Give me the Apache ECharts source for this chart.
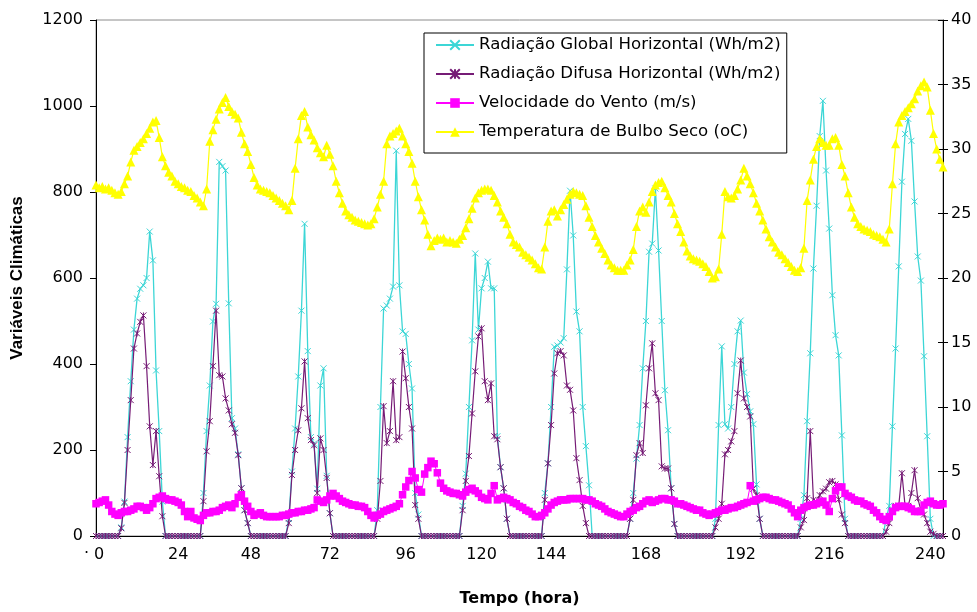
<!DOCTYPE html>
<html><head><meta charset="utf-8">
<script src="https://cdn.jsdelivr.net/npm/echarts@6/dist/echarts.min.js"></script>
<style>html,body{margin:0;padding:0;background:#fff}#c{width:977px;height:612px}</style>
</head><body><div id="c"></div>
<script>
// x-axis tick labels (hours) and the point index where each label sits
const hourTickLabels = ['0','24','48','72','96','120','144','168','192','216','240'];
const hourTickIndex  = [1, 26, 49, 74, 98, 122, 144, 174, 204, 232, 264];

// Radiação Global Horizontal (Wh/m2)
const radGlobal = [
 0,0,0,0,0,0,0,0,
 20,80,230,360,480,552,575,583,600,708,641,385,244,80,0,
 0,0,0,0,0,0,0,0,0,0,0,
 100,244,350,499,540,870,860,850,541,274,250,190,111,60,30,0,
 0,0,0,0,0,0,0,0,0,0,0,
 40,150,250,371,524,726,430,230,215,110,350,390,140,53,0,
 0,0,0,0,0,0,0,0,0,0,0,0,0,
 60,300,529,536,552,580,896,583,476,470,400,343,100,50,0,
 0,0,0,0,0,0,0,0,0,0,0,0,
 70,145,300,455,657,480,576,600,638,576,576,232,160,111,40,0,
 0,0,0,0,0,0,0,0,0,0,
 100,169,300,440,443,450,460,620,803,699,522,476,300,209,118,0,
 0,0,0,0,0,0,0,0,0,0,0,
 40,100,180,258,390,500,661,680,808,664,500,339,246,111,28,0,
 0,0,0,0,0,0,0,0,0,0,0,
 40,258,441,260,250,300,400,476,501,380,330,290,260,120,40,0,
 0,0,0,0,0,0,0,0,0,0,0,
 40,95,267,425,622,768,930,1012,850,715,560,467,420,234,40,0,
 0,0,0,0,0,0,0,0,0,0,0,
 40,70,255,436,627,824,935,970,919,778,650,594,418,232,40,0,0,0,0
];

// Radiação Difusa Horizontal (Wh/m2)
const radDifusa = [
 0,0,0,0,0,0,0,0,
 18,77,200,316,436,471,498,513,395,255,165,244,139,46,0,
 0,0,0,0,0,0,0,0,0,0,0,
 81,197,267,395,524,374,371,320,292,260,240,188,111,60,30,0,
 0,0,0,0,0,0,0,0,0,0,0,
 30,142,200,246,297,406,274,223,211,100,227,200,135,53,0,
 0,0,0,0,0,0,0,0,0,0,0,0,0,
 40,128,302,216,244,360,223,230,429,367,300,250,72,40,0,
 0,0,0,0,0,0,0,0,0,0,0,0,
 60,128,186,285,383,464,483,360,316,355,232,225,160,111,40,0,
 0,0,0,0,0,0,0,0,0,0,
 84,169,258,378,425,430,420,350,340,292,181,130,70,30,0,0,
 0,0,0,0,0,0,0,0,0,0,0,
 40,84,188,216,193,304,390,448,332,316,162,157,157,111,28,0,
 0,0,0,0,0,0,0,0,0,0,0,
 20,40,75,190,200,220,244,332,408,320,300,278,110,95,40,0,
 0,0,0,0,0,0,0,0,0,0,0,
 20,37,88,244,84,80,95,104,110,125,128,120,85,50,30,0,
 0,0,0,0,0,0,0,0,0,0,0,
 10,30,60,70,70,146,70,70,100,153,88,60,50,30,10,5,0,0,0
];

// Velocidade do Vento (m/s) - right axis
const vento = [
 2.5,2.6,2.7,2.8,2.4,1.9,1.7,1.6,1.8,1.9,
 1.9,2.0,2.1,2.3,2.3,2.2,2.0,2.2,2.5,2.9,
 3.0,3.1,2.9,2.8,2.8,2.7,2.6,2.4,1.9,1.5,
 1.9,1.4,1.3,1.2,1.6,1.8,1.8,1.9,1.9,2.0,
 2.2,2.3,2.4,2.2,2.5,3.0,3.2,2.7,2.3,1.9,
 1.6,1.7,1.8,1.6,1.5,1.5,1.5,1.5,1.5,1.6,
 1.6,1.7,1.8,1.8,1.9,1.9,2.0,2.0,2.1,2.2,
 2.8,2.7,2.6,2.8,3.1,3.3,3.1,2.9,2.7,2.6,
 2.5,2.4,2.4,2.3,2.3,2.2,1.9,1.6,1.4,1.6,
 1.7,1.9,2.0,2.1,2.2,2.3,2.5,3.2,3.8,4.3,
 5.0,4.5,3.6,3.4,4.8,5.3,5.8,5.6,4.9,4.1,
 3.7,3.5,3.4,3.3,3.3,3.2,3.1,3.4,3.6,3.7,
 3.5,3.3,3.0,2.9,2.8,3.3,3.9,2.8,2.9,3.0,
 2.9,2.8,2.6,2.5,2.3,2.2,2.0,1.9,1.7,1.5,
 1.5,1.6,1.8,2.1,2.4,2.6,2.7,2.8,2.8,2.8,
 2.9,2.9,2.9,2.9,2.9,2.8,2.8,2.7,2.5,2.4,
 2.3,2.1,1.9,1.8,1.7,1.6,1.5,1.5,1.7,1.9,
 2.0,2.2,2.3,2.5,2.7,2.8,2.6,2.7,2.8,2.9,
 2.9,2.8,2.8,2.7,2.5,2.5,2.4,2.3,2.2,2.1,
 2.0,2.0,1.8,1.7,1.6,1.7,1.8,1.9,2.0,2.0,
 2.1,2.2,2.2,2.3,2.4,2.5,2.6,3.9,2.7,2.8,
 2.9,3.0,3.0,2.9,2.8,2.8,2.7,2.6,2.5,2.4,
 2.1,1.8,1.5,2.0,2.2,2.3,2.4,2.4,2.5,2.6,
 2.7,2.4,1.9,2.9,3.5,3.8,3.8,3.3,3.1,3.0,
 2.8,2.7,2.7,2.5,2.4,2.3,2.0,1.8,1.5,1.3,
 1.2,1.5,1.9,2.2,2.3,2.3,2.3,2.2,2.1,1.9,
 1.9,1.9,2.4,2.6,2.7,2.5,2.4,2.4,2.5
];

// Temperatura de Bulbo Seco (oC) - right axis
const temperatura = [
 27.2,27.0,27.1,26.9,27.0,26.8,26.6,26.5,26.7,27.3,
 27.9,29.0,29.9,30.2,30.5,30.8,31.2,31.6,32.1,32.2,
 30.9,29.4,28.7,28.2,27.9,27.5,27.3,27.1,27.0,26.8,
 26.7,26.4,26.2,25.9,25.6,26.9,30.6,31.5,32.3,33.1,
 33.6,34.0,33.3,32.9,32.7,32.4,31.3,30.4,29.8,28.8,
 27.8,27.2,26.9,26.8,26.7,26.6,26.4,26.2,26.0,25.8,
 25.6,25.3,26.0,28.5,30.8,32.6,32.9,31.7,31.1,30.7,
 30.1,29.7,29.4,30.3,29.6,28.7,27.5,26.6,25.8,25.2,
 24.9,24.7,24.5,24.4,24.3,24.2,24.1,24.2,24.6,25.5,
 26.5,27.5,30.4,31.0,31.2,31.4,31.6,31.0,30.4,29.8,
 28.9,27.5,26.3,25.3,24.5,23.4,22.5,22.9,23.1,23.0,
 23.1,22.8,22.9,22.8,22.7,23.0,23.3,23.9,24.6,25.4,
 26.2,26.6,26.8,26.9,26.9,26.8,26.4,25.9,25.2,24.7,
 24.2,23.4,22.8,22.6,22.4,22.0,21.8,21.6,21.4,21.1,
 20.8,20.7,22.4,24.4,25.2,25.3,24.8,25.3,25.7,26.1,
 26.5,26.7,26.6,26.5,26.4,25.6,24.7,24.0,23.3,22.8,
 22.3,21.9,21.4,21.0,20.8,20.6,20.6,20.6,21.0,21.4,
 22.2,24.0,25.2,25.5,25.1,25.9,26.7,27.2,27.4,27.5,
 27.0,26.4,25.9,25.0,24.2,23.6,22.8,22.1,21.7,21.5,
 21.4,21.3,21.1,20.9,20.5,20.0,20.1,20.7,23.4,26.7,
 26.3,26.2,26.4,26.9,27.6,28.5,27.9,27.3,26.6,25.8,
 25.2,24.5,23.8,23.2,22.8,22.4,22.0,21.8,21.5,21.2,
 20.9,20.6,20.5,20.8,22.3,26.0,27.6,29.2,30.2,30.8,
 30.5,30.3,30.3,30.8,30.9,30.3,28.8,27.9,26.6,25.5,
 24.7,24.2,24.0,23.8,23.7,23.6,23.4,23.3,23.2,23.0,
 22.8,23.8,27.3,30.4,32.1,32.6,32.9,33.2,33.5,33.9,
 34.5,34.9,35.2,34.8,33.0,31.2,30.0,29.2,28.6
];

const seriesNames = [
 'Radiação Global Horizontal (Wh/m2)',
 'Radiação Difusa Horizontal (Wh/m2)',
 'Velocidade do Vento (m/s)',
 'Temperatura de Bulbo Seco (oC)'
];

const pontos = radGlobal.map((_, i) => String(i));
const FONT = 'DejaVu Sans';
const C_GLOBAL = '#3CD6D6', C_DIF = '#761C76', C_VENTO = '#FF00FF', C_TEMP = '#FFFF00';

const chart = echarts.init(document.getElementById('c'), null, {renderer: 'canvas'});
chart.setOption({
  animation: false,
  backgroundColor: '#fff',
  grid: {left: 96, right: 34, top: 20, bottom: 74, show: true, borderColor: '#8c8c8c', borderWidth: 1},
  legend: {
    orient: 'vertical', left: 424, top: 33,
    padding: [3, 6, 12, 11], itemGap: 11, itemWidth: 38, itemHeight: 12,
    borderColor: '#000', borderWidth: 1, backgroundColor: '#fff',
    textStyle: {fontFamily: FONT, fontSize: 16.6, color: '#000', lineHeight: 18},
    data: seriesNames
  },
  graphic: [{type: 'text', left: 84, top: 546, style: {text: '·', font: '16px DejaVu Sans', fill: '#000'}}],
  xAxis: {
    type: 'category', data: pontos, boundaryGap: false,
    name: 'Tempo (hora)', nameLocation: 'middle', nameGap: 55,
    nameTextStyle: {fontFamily: FONT, fontSize: 16, fontWeight: 'bold', color: '#000'},
    axisLine: {lineStyle: {color: '#000', width: 1}},
    axisTick: {show: false},
    axisLabel: {
      interval: (idx) => hourTickIndex.includes(idx),
      formatter: (v, idx) => { const k = hourTickIndex.indexOf(idx); return k >= 0 ? hourTickLabels[k] : ''; },
      fontFamily: FONT, fontSize: 16, color: '#000', margin: 11
    },
    splitLine: {show: false}
  },
  yAxis: [
    {
      type: 'value', min: 0, max: 1200, interval: 200, position: 'left',
      name: 'Variáveis Climáticas', nameLocation: 'middle', nameGap: 70, nameRotate: 90,
      nameTextStyle: {fontFamily: 'Liberation Sans', fontSize: 17, fontWeight: 'bold', color: '#000'},
      axisLine: {show: true, lineStyle: {color: '#000', width: 1}},
      axisTick: {show: true, length: 6, lineStyle: {color: '#000'}},
      axisLabel: {fontFamily: FONT, fontSize: 16, color: '#000', margin: 13, formatter: (v) => String(v)},
      splitLine: {show: false}
    },
    {
      type: 'value', min: 0, max: 40, interval: 5, position: 'right',
      axisLine: {show: true, lineStyle: {color: '#000', width: 1}},
      axisTick: {show: true, length: 5, lineStyle: {color: '#000'}},
      axisLabel: {fontFamily: FONT, fontSize: 16, color: '#000', margin: 8, formatter: (v) => String(v)},
      splitLine: {show: false}
    },
    {
      type: 'value', min: 0, max: 40, interval: 5, position: 'right',
      axisLine: {show: false},
      axisTick: {show: true, inside: true, length: 5, lineStyle: {color: '#000'}},
      axisLabel: {show: false},
      splitLine: {show: false}
    }
  ],
  series: [
    {
      name: seriesNames[0], type: 'line', yAxisIndex: 0, data: radGlobal,
      showAllSymbol: true, symbol: 'path://M0,0L10,10M10,0L0,10', symbolSize: 6,
      itemStyle: {color: 'rgba(0,0,0,0)', borderColor: C_GLOBAL, borderWidth: 1},
      lineStyle: {color: C_GLOBAL, width: 1.3}, z: 2
    },
    {
      name: seriesNames[1], type: 'line', yAxisIndex: 0, data: radDifusa,
      showAllSymbol: true, symbol: 'path://M0,0L10,10M10,0L0,10M5,0L5,10', symbolSize: 6,
      itemStyle: {color: 'rgba(0,0,0,0)', borderColor: C_DIF, borderWidth: 1},
      lineStyle: {color: C_DIF, width: 1.2}, z: 3
    },
    {
      name: seriesNames[2], type: 'line', yAxisIndex: 1, data: vento,
      showAllSymbol: true, symbol: 'rect', symbolSize: 7.5,
      itemStyle: {color: C_VENTO, borderWidth: 0},
      lineStyle: {color: C_VENTO, width: 1}, z: 4
    },
    {
      name: seriesNames[3], type: 'line', yAxisIndex: 1, data: temperatura,
      showAllSymbol: true, symbol: 'triangle', symbolSize: 9,
      itemStyle: {color: C_TEMP, borderWidth: 0},
      lineStyle: {color: C_TEMP, width: 1.2}, z: 5
    }
  ]
});
</script>
</body></html>
